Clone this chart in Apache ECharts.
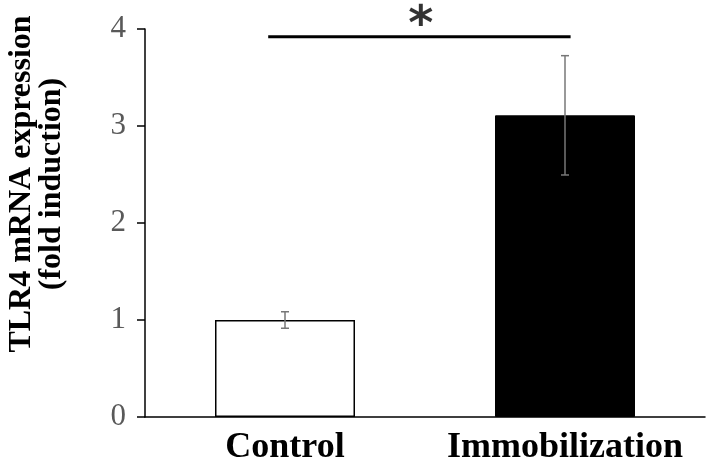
<!DOCTYPE html>
<html>
<head>
<meta charset="utf-8">
<script src="https://cdn.jsdelivr.net/npm/echarts@6/dist/echarts.min.js"></script>
<style>html,body{margin:0;padding:0;background:#fff}#c{width:709px;height:472px}</style>
</head>
<body>
<div id="c"></div>
<script>
const categories = ['Control', 'Immobilization'];
const values = [1.0, 3.11];
const errors = [0.085, 0.615];
const yTicks = [0, 1, 2, 3, 4];
const sigLineX = [0.44, 1.52];
const sigLineY = 3.92;
const starPos = [0.985, 4.03];
const yTitle = ['TLR4 mRNA expression', '(fold induction)'];

const chart = echarts.init(document.getElementById('c'));
const serif = 'Liberation Serif, Times New Roman, serif';
chart.setOption({
  animation: false,
  grid: { left: 145, right: 4, top: 29, bottom: 55 },
  xAxis: [{
    type: 'category', data: categories,
    axisLine: { lineStyle: { color: '#000', width: 1.5 } },
    axisTick: { show: false },
    axisLabel: { interval: 0, hideOverlap: false, color: '#000', fontFamily: serif, fontWeight: 'bold', fontSize: 36, margin: 13 }
  }, {
    type: 'value', min: 0, max: 2, show: false
  }],
  yAxis: {
    type: 'value', min: yTicks[0], max: yTicks[yTicks.length - 1], interval: 1,
    axisLine: { show: true, lineStyle: { color: '#000', width: 1.5 } },
    axisTick: { show: true, length: 8, lineStyle: { color: '#000', width: 1.5 } },
    axisLabel: { color: '#595959', fontFamily: serif, fontSize: 31, margin: 19 },
    splitLine: { show: false }
  },
  graphic: [{
    type: 'text', x: 37, y: 184, rotation: Math.PI / 2,
    style: {
      text: yTitle.join('\n'), fill: '#000', font: 'bold 32px ' + serif,
      textAlign: 'center', textVerticalAlign: 'middle', lineHeight: 30
    }
  }],
  series: [{
    type: 'bar', barWidth: '50%',
    data: values.map((v, i) => ({
      value: v,
      itemStyle: i === 0 ? { color: '#fff', borderColor: '#000', borderWidth: 1.5 } : { color: '#000', borderColor: '#000', borderWidth: 1 }
    }))
  }, {
    type: 'custom', z: 5,
    data: values.map((v, i) => [i, v - errors[i], v + errors[i]]),
    renderItem: function (params, api) {
      const lo = api.coord([api.value(0), api.value(1)]);
      const hi = api.coord([api.value(0), api.value(2)]);
      const w = 4;
      const st = { stroke: '#777', lineWidth: 1.5 };
      return { type: 'group', children: [
        { type: 'line', shape: { x1: lo[0], y1: lo[1], x2: hi[0], y2: hi[1] }, style: st },
        { type: 'line', shape: { x1: lo[0] - w, y1: lo[1], x2: lo[0] + w, y2: lo[1] }, style: st },
        { type: 'line', shape: { x1: hi[0] - w, y1: hi[1], x2: hi[0] + w, y2: hi[1] }, style: st }
      ]};
    }
  }, {
    type: 'line', xAxisIndex: 1, symbol: 'none',
    lineStyle: { color: '#000', width: 3 },
    data: sigLineX.map(x => [x, sigLineY])
  }, {
    type: 'scatter', xAxisIndex: 1, symbolSize: 0, clip: false,
    data: [starPos],
    label: { show: true, position: 'inside', formatter: '*', color: '#000',
      fontFamily: 'DejaVu Sans, sans-serif', fontWeight: 'bold', fontSize: 48 }
  }]
});
</script>
</body>
</html>
